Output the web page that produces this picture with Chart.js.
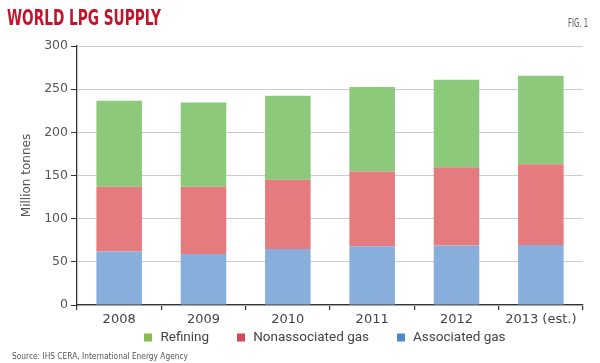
<!DOCTYPE html>
<html>
<head>
<meta charset="utf-8">
<script src="https://cdn.jsdelivr.net/npm/chart.js@4.4.1/dist/chart.umd.min.js"></script>
<style>
  html, body { margin: 0; padding: 0; background: #ffffff; }
  #wrap { width: 600px; height: 363px; }
</style>
</head>
<body>
<div id="wrap"><canvas id="c" width="600" height="363"></canvas></div>
<script>
// ---- Data ----
const categories = ['2008', '2009', '2010', '2011', '2012', '2013 (est.)'];
const associatedGas = [62, 59, 65, 68, 69, 69.5];
const nonassociatedGas = [75, 78, 80, 86.5, 90.5, 93.5];
const refining = [99.5, 97.5, 97.5, 98, 101.5, 102.5];
const yTicks = [0, 50, 100, 150, 200, 250, 300];

const chartTitle = 'WORLD LPG SUPPLY';
const figLabel = 'FIG. 1';
const sourceText = 'Source: IHS CERA, International Energy Agency';
const yAxisTitle = 'Million tonnes';

// ---- Styles ----
const barColors = { assoc: '#88afdb', nonassoc: '#e67b7f', refining: '#8cc97b' };
const legendColors = { 'Associated gas': '#4f88c8', 'Nonassociated gas': '#d5495a', 'Refining': '#86bd4c' };

function fitText(ctx, text, x, y, targetWidth) {
  const w = ctx.measureText(text).width;
  const s = targetWidth / w;
  ctx.save();
  ctx.translate(x, y);
  ctx.scale(s, 1);
  ctx.textAlign = 'left';
  ctx.fillText(text, 0, 0);
  ctx.restore();
}

const decorPlugin = {
  id: 'decor',
  afterDraw(chart) {
    const ctx = chart.ctx;
    const area = chart.chartArea;
    ctx.save();
    ctx.textBaseline = 'alphabetic';
    // Title
    ctx.fillStyle = '#c4142c';
    ctx.font = "bold 21px 'Liberation Sans Narrow', 'DejaVu Sans Condensed', sans-serif";
    fitText(ctx, chartTitle, 7, 24.5, 154);
    // Fig label (right edge at 588)
    ctx.fillStyle = '#555555';
    ctx.font = "11.5px 'Liberation Sans Narrow', 'DejaVu Sans Condensed', sans-serif";
    fitText(ctx, figLabel, 568, 27, 20);
    // Source
    ctx.fillStyle = '#555555';
    ctx.font = "9.5px 'Liberation Sans Narrow', 'DejaVu Sans Condensed', sans-serif";
    fitText(ctx, sourceText, 12, 359, 176);

    // Legend (reverse dataset order), centred on chart area
    const items = chart.data.datasets.slice().reverse();
    ctx.font = "13.5px Roboto, 'Liberation Sans', sans-serif";
    const box = 8, gapBoxText = 8, gapItems = 28;
    const widths = items.map(d => box + gapBoxText + ctx.measureText(d.label).width);
    const total = widths.reduce((a, b) => a + b, 0) + gapItems * (items.length - 1);
    let x = (area.left + area.right) / 2 - total / 2 - 5;
    const cy = 337.5;
    items.forEach((d, i) => {
      ctx.fillStyle = legendColors[d.label] || d.backgroundColor;
      ctx.fillRect(Math.round(x), cy - box / 2, box, box);
      ctx.fillStyle = '#444444';
      ctx.textAlign = 'left';
      ctx.textBaseline = 'middle';
      ctx.fillText(d.label, x + box + gapBoxText, cy + 0.5);
      x += widths[i] + gapItems;
    });
    ctx.restore();
  }
};

new Chart(document.getElementById('c'), {
  type: 'bar',
  data: {
    labels: categories,
    datasets: [
      { label: 'Associated gas', data: associatedGas, backgroundColor: barColors.assoc },
      { label: 'Nonassociated gas', data: nonassociatedGas, backgroundColor: barColors.nonassoc },
      { label: 'Refining', data: refining, backgroundColor: barColors.refining }
    ]
  },
  options: {
    responsive: false,
    animation: false,
    devicePixelRatio: 1,
    categoryPercentage: 1,
    barPercentage: 0.54,
    layout: { padding: { top: 46, right: 17, bottom: 0, left: 0 } },
    plugins: {
      legend: { display: false },
      title: { display: false },
      tooltip: { enabled: false }
    },
    scales: {
      x: {
        stacked: true,
        offset: true,
        grid: { display: true, drawOnChartArea: false, tickLength: 5, tickColor: '#333333', lineWidth: 1.2, offset: true },
        border: { display: true, color: '#333333', width: 1.3 },
        ticks: { color: '#444444', font: { family: "'DejaVu Sans', sans-serif", size: 13 }, padding: 2, maxRotation: 0, autoSkip: false },
        afterFit(scale) { scale.height = 58; }
      },
      y: {
        stacked: true,
        min: 0,
        max: 300,
        afterBuildTicks(scale) { scale.ticks = yTicks.map(v => ({ value: v })); },
        grid: { color: '#cccccc', lineWidth: 1, tickLength: 6, tickColor: '#333333' },
        border: { display: true, color: '#333333', width: 1.3 },
        ticks: { color: '#555555', font: { family: "'DejaVu Sans', sans-serif", size: 12.5 }, padding: 3 },
        title: { display: true, text: yAxisTitle, color: '#555555', font: { family: "'DejaVu Sans', sans-serif", size: 12 }, padding: { top: 20, bottom: 0 } },
        afterFit(scale) { scale.width = 77; }
      }
    }
  },
  plugins: [decorPlugin]
});
</script>
</body>
</html>
